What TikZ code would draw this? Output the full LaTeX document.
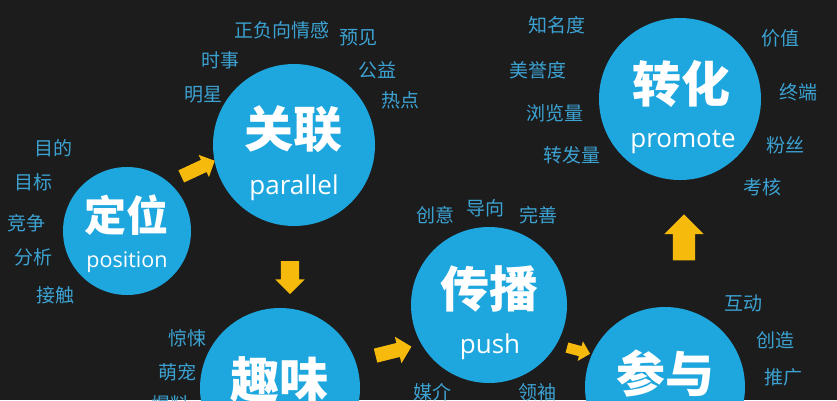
\documentclass[tikz,border=0pt]{standalone}
\usepackage{fontspec}
\newfontfamily\cjk{Noto Sans CJK SC}
\newfontfamily\latin{Open Sans}
\usetikzlibrary{shapes.arrows}
\definecolor{bgc}{RGB}{28,28,28}
\definecolor{bubblec}{RGB}{30,166,222}
\definecolor{tagc}{RGB}{60,162,210}
\definecolor{arrowc}{RGB}{246,186,12}
\tikzset{
  bubble/.style={circle, fill=bubblec, inner sep=0pt},
  head/.style={text=white, inner sep=0pt, font=\cjk\bfseries\fontsize{49}{49}\selectfont},
  sub/.style={text=white, anchor=base, inner sep=0pt, font=\latin\fontsize{26}{26}\selectfont},
  tag/.style={text=tagc, inner sep=0pt, font=\cjk\fontsize{19}{19}\selectfont},
  yarrow/.style={single arrow, fill=arrowc, inner xsep=0pt}
}

\begin{document}
\begin{tikzpicture}[x=1pt, y=-1pt]
      \useasboundingbox (0,0) rectangle (837,400);
      \fill[bgc] (0,0) rectangle (837,400);
      \clip (0,0) rectangle (837,400);
      % circles
      \node[bubble, minimum size=128pt] (dw) at (127,231) {};
      \node[bubble, minimum size=162pt] (gl) at (294,145) {};
      \node[bubble, minimum size=160pt] (qw) at (280,388) {};
      \node[bubble, minimum size=156pt] (cb) at (489,305) {};
      \node[bubble, minimum size=160pt] (cy) at (665,387) {};
      \node[bubble, minimum size=162pt] (zh) at (680,99) {};
      % titles
      \node[head, font=\cjk\bfseries\fontsize{42}{42}\selectfont] (dwt) at (126,215) {定位};
      \node[sub, font=\latin\fontsize{21.5}{21.5}\selectfont] (dws) at (127,267) {position};
      \node[head] (glt) at (293,129) {关联};
      \node[sub] (gls) at (294,194) {parallel};
      \node[head] (qwt) at (279,380) {趣味};
      \node[head] (cbt) at (489,289) {传播};
      \node[sub] (cbs) at (490,353) {push};
      \node[head] (cyt) at (665,374) {参与};
      \node[head] (zht) at (681,84) {转化};
      \node[sub] (zhs) at (683,147) {promote};
      % arrows
      \node[yarrow, minimum height=37pt, inner ysep=6.5pt, single arrow head extend=5.5pt, rotate=25] (a1) at (195,170) {};
      \node[yarrow, minimum height=33pt, inner ysep=9pt, single arrow head extend=5.5pt, rotate=-90] (a2) at (290,273) {};
      \node[yarrow, minimum height=37pt, inner ysep=7pt, single arrow head extend=6.5pt, rotate=14] (a3) at (390,352) {};
      \node[yarrow, minimum height=24pt, inner ysep=5pt, single arrow head extend=5pt, rotate=-15] (a4) at (576,350) {};
      \node[yarrow, minimum height=46pt, inner ysep=11pt, single arrow head extend=8.5pt, rotate=90] (a5) at (684,243) {};
      % keywords
      \foreach \t/\x/\y [count=\i] in {正负向情感/282/30, 预见/358/38, 时事/220/60, 公益/377/70,
          明星/203/95, 热点/400/100, 目的/53/148, 目标/33/182, 竞争/27/223, 分析/33/257,
          接触/55/295, 惊悚/187/338, 萌宠/177/372, 爆料/170/404, 创意/435/215, 导向/485/208,
          完善/538/215, 媒介/432/392, 领袖/537/392, 互动/743/303, 创造/775/340, 推广/783/377,
          知名度/557/25, 美誉度/538/70, 浏览量/555/113, 转发量/572/155, 价值/780/38,
          终端/798/92, 粉丝/785/145, 考核/762/187}
        \node[tag] (tag\i) at (\x,\y) {\t};
\end{tikzpicture}
\end{document}
